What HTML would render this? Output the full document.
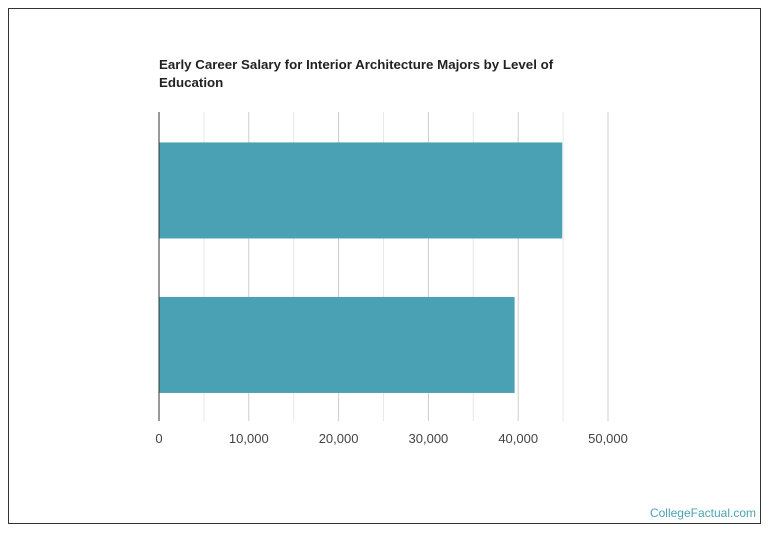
<!DOCTYPE html>
<html><head><meta charset="utf-8"><style>
body{margin:0;background:#fff;width:770px;height:536px;overflow:hidden;font-family:"Liberation Sans",sans-serif}
#frame{position:absolute;left:8px;top:8px;width:753px;height:516px;border:1px solid #333;box-sizing:border-box}
#title{position:absolute;left:159px;top:56px;font-size:13.3px;font-weight:bold;color:#222;line-height:18px;width:420px}
#wm{position:absolute;right:14px;top:506px;font-size:12px;color:#4aa3b3}
svg{position:absolute;left:0;top:0}
</style></head><body>
<div id="frame"></div>
<div id="title">Early Career Salary for Interior Architecture Majors by Level of Education</div>
<svg id="chart" width="770" height="536"></svg>
<div id="wm">CollegeFactual.com</div>
<script>
const categories=["Bachelor's Degree","Master's Degree"];
const values=[44900,39600];
const ticks=[0,10000,20000,30000,40000,50000];
const tickLabels=["0","10,000","20,000","30,000","40,000","50,000"];
const minorTicks=[5000,15000,25000,35000,45000];
const svg=document.getElementById('chart');
const NS='http://www.w3.org/2000/svg';
const x0=159,pxPer=449/50000,yTop=112,yBot=421;
const xs=v=>x0+v*pxPer;
function mk(t,a){const e=document.createElementNS(NS,t);for(const k in a)e.setAttribute(k,a[k]);svg.appendChild(e);return e;}
minorTicks.forEach(v=>{const l=mk('line',{x1:xs(v),x2:xs(v),y1:yTop,y2:yBot,stroke:'#e8e8e8','stroke-width':1});

});
ticks.forEach((v,i)=>{if(i>0){const l=mk('line',{x1:xs(v),x2:xs(v),y1:yTop,y2:yBot,stroke:'#ccc','stroke-width':1});

}
const t=mk('text',{x:xs(v),y:443,'text-anchor':'middle','font-size':13,fill:'#444','font-family':'Liberation Sans, sans-serif'});
t.textContent=tickLabels[i];

});
const band=(yBot-yTop)/categories.length;
values.forEach((v,i)=>{const y=yTop+band*i+band*0.1+15;
const r=mk('rect',{x:x0,y:y,width:xs(v)-x0,height:96,fill:'#4aa1b3'});

});
const ax=mk('line',{x1:x0,x2:x0,y1:yTop,y2:yBot,stroke:'#333','stroke-width':1});


</script>
</body></html>
